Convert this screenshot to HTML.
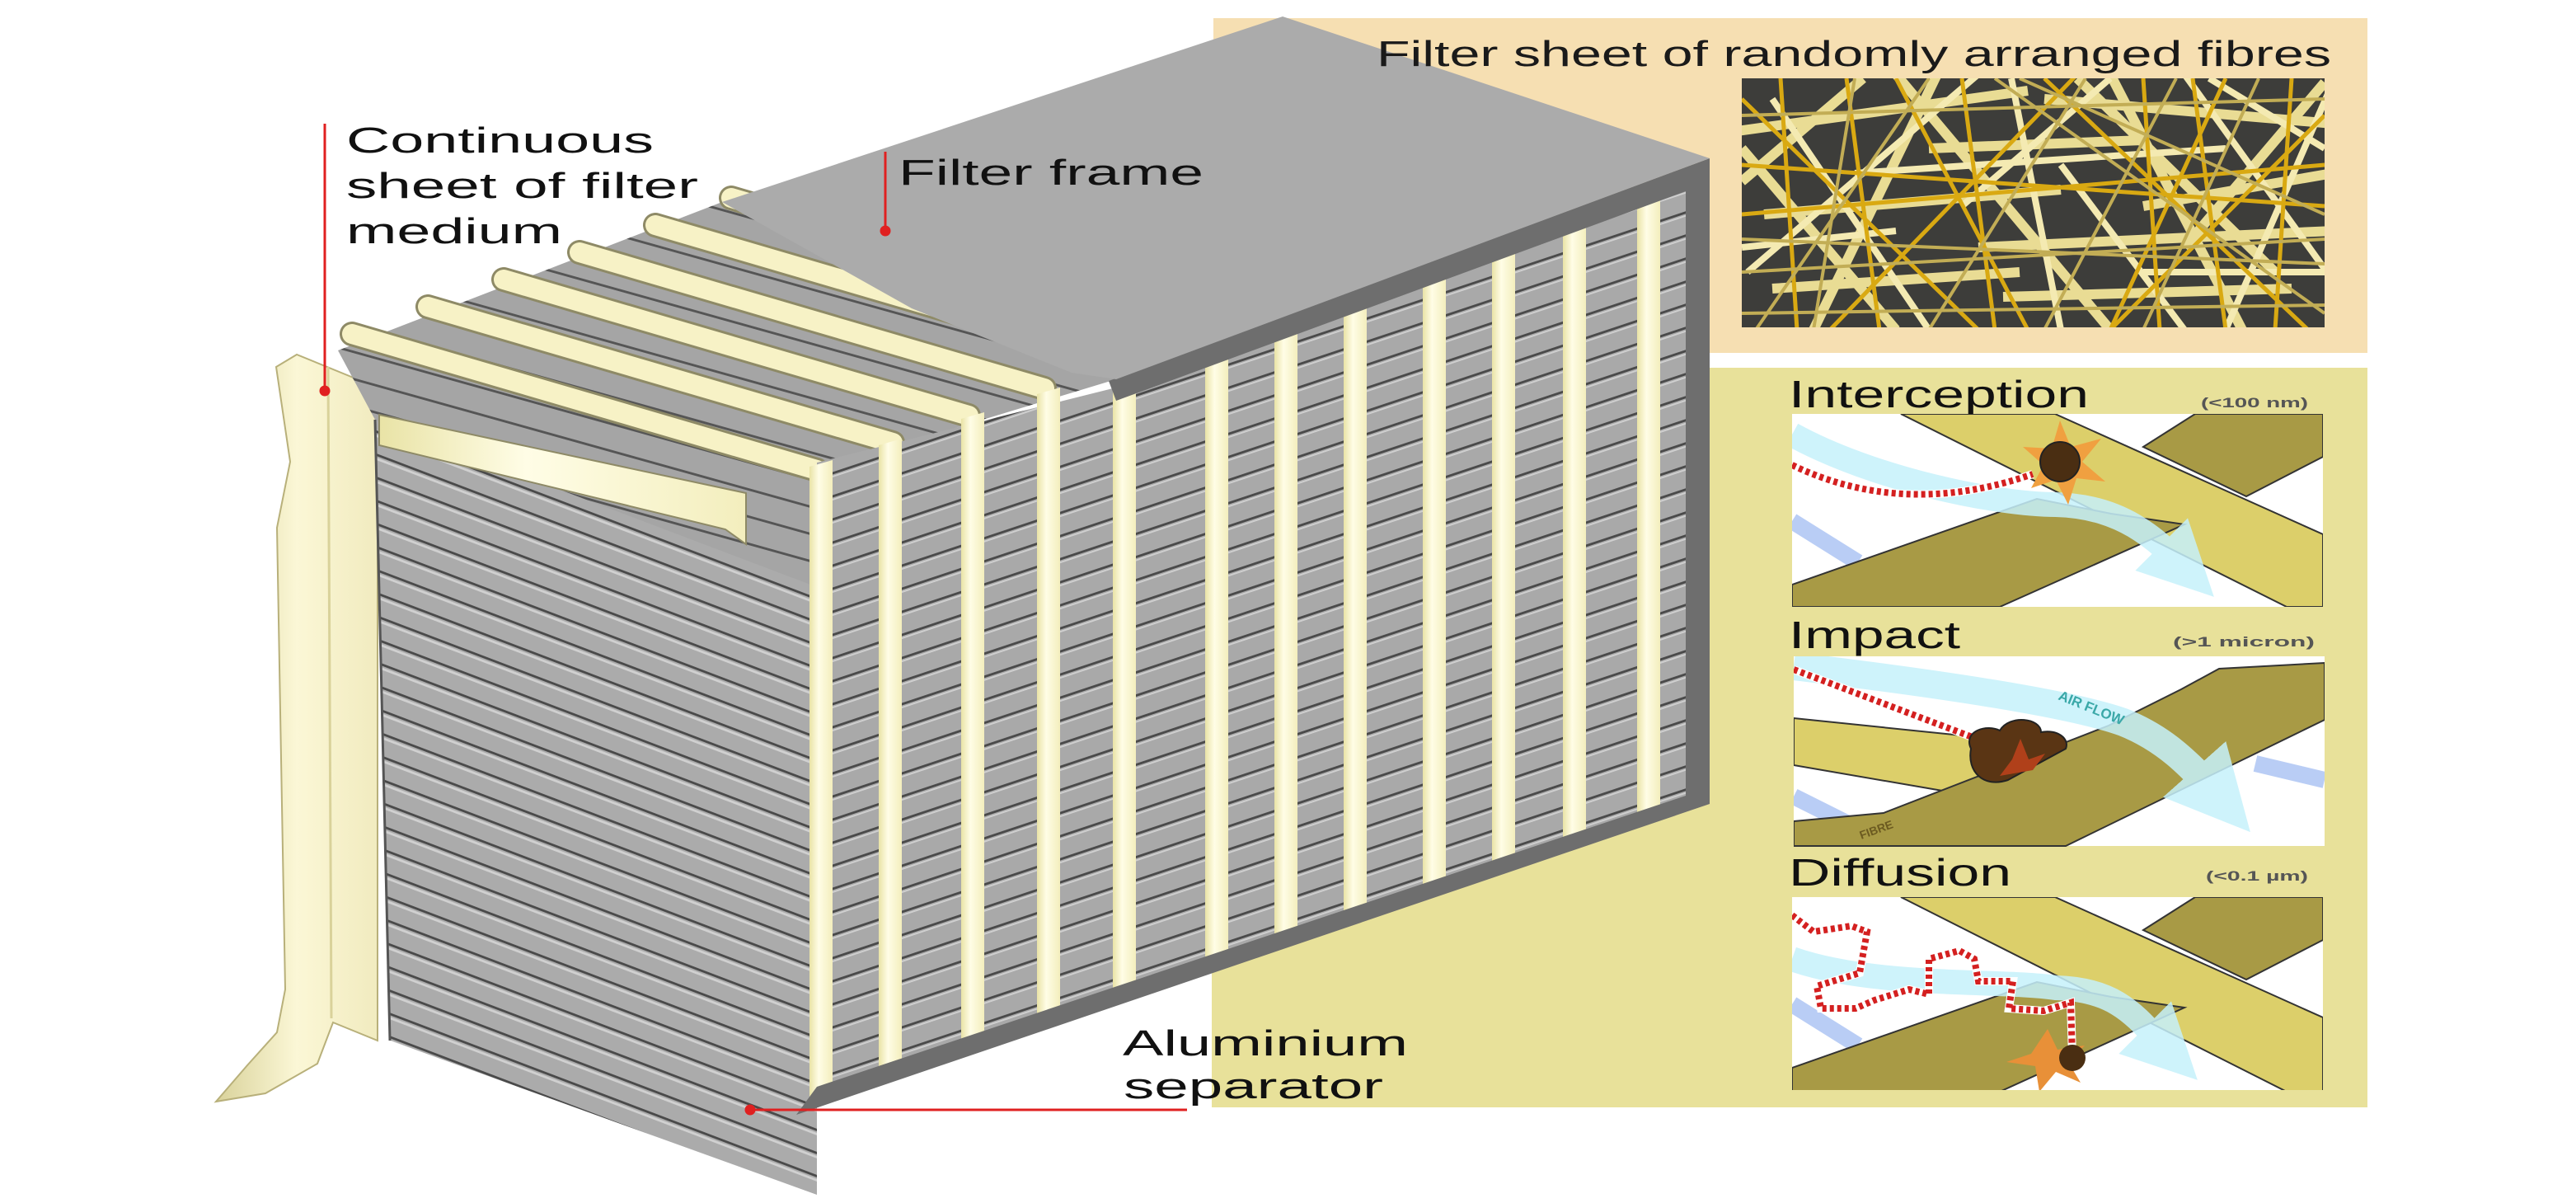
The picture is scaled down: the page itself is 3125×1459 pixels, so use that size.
<!DOCTYPE html>
<html><head><meta charset="utf-8"><style>
html,body{margin:0;padding:0;background:#fff;}
svg{display:block;}
text{font-family:"Liberation Sans",sans-serif;}
</style></head><body>
<svg width="3125" height="1459" viewBox="0 0 3125 1459" xmlns="http://www.w3.org/2000/svg">
<defs>
<pattern id="pr" width="60" height="28" patternUnits="userSpaceOnUse" patternTransform="skewY(-18.4)">
<rect width="60" height="28" fill="#a9a9a9"/><path d="M0 14H60" stroke="#4a4a4a" stroke-width="3"/><path d="M0 18H60" stroke="#cfcfcf" stroke-width="2"/>
</pattern>
<pattern id="pl" width="60" height="28" patternUnits="userSpaceOnUse" patternTransform="skewY(20.8)">
<rect width="60" height="28" fill="#ababab"/><path d="M0 14H60" stroke="#4a4a4a" stroke-width="3"/><path d="M0 19H60" stroke="#d0d0d0" stroke-width="3"/>
</pattern>
<pattern id="pf" width="60" height="33" patternUnits="userSpaceOnUse" patternTransform="skewY(15.6)">
<rect width="60" height="33" fill="#a5a5a5"/><path d="M0 10H60" stroke="#555" stroke-width="3"/>
</pattern>
<linearGradient id="cr" x1="0" x2="1" y1="0" y2="0"><stop offset="0" stop-color="#e9e3a6"/><stop offset="0.4" stop-color="#fffde6"/><stop offset="1" stop-color="#f3eebd"/></linearGradient>
<linearGradient id="cs" x1="0" x2="1"><stop offset="0" stop-color="#d9d29a"/><stop offset="0.5" stop-color="#fbf7d6"/><stop offset="1" stop-color="#f1ebbf"/></linearGradient>
<clipPath id="cf"><rect x="2113" y="95" width="707" height="302"/></clipPath>
<clipPath id="cb"><rect x="0" y="0" width="644" height="234"/></clipPath>
<marker id="ar" viewBox="0 0 10 10" refX="5" refY="5" markerWidth="3" markerHeight="3" orient="auto"><path d="M0 0L10 5L0 10z" fill="#c6f1fb"/></marker>
</defs>

<rect x="1472" y="22" width="1400" height="406" fill="#f6dfb2"/>
<rect x="1470" y="446" width="1402" height="897" fill="#e8e19a"/>

<rect x="2113" y="95" width="707" height="302" fill="#3d3d3a"/>
<g clip-path="url(#cf)" stroke-linecap="butt">
<g stroke="#e9dc94" stroke-width="12">
<line x1="2100" y1="160" x2="2460" y2="110"/><line x1="2300" y1="90" x2="2560" y2="400"/><line x1="2480" y1="120" x2="2830" y2="150"/>
<line x1="2140" y1="260" x2="2500" y2="230"/><line x1="2560" y1="90" x2="2720" y2="400"/><line x1="2400" y1="300" x2="2830" y2="280"/>
<line x1="2200" y1="400" x2="2350" y2="90"/><line x1="2600" y1="250" x2="2830" y2="210"/><line x1="2430" y1="360" x2="2780" y2="350"/>
<line x1="2113" y1="180" x2="2300" y2="400"/><line x1="2340" y1="180" x2="2600" y2="170"/><line x1="2650" y1="300" x2="2820" y2="100"/>
<line x1="2150" y1="350" x2="2450" y2="330"/><line x1="2520" y1="95" x2="2760" y2="330"/><line x1="2113" y1="220" x2="2260" y2="95"/>
</g>
<g stroke="#f4eab2" stroke-width="8">
<line x1="2120" y1="330" x2="2400" y2="90"/><line x1="2650" y1="90" x2="2830" y2="340"/><line x1="2250" y1="210" x2="2700" y2="180"/>
<line x1="2150" y1="120" x2="2340" y2="400"/><line x1="2700" y1="400" x2="2830" y2="100"/><line x1="2500" y1="200" x2="2650" y2="400"/>
<line x1="2380" y1="250" x2="2560" y2="95"/><line x1="2600" y1="330" x2="2820" y2="330"/><line x1="2113" y1="300" x2="2300" y2="280"/>
<line x1="2440" y1="95" x2="2500" y2="400"/><line x1="2680" y1="95" x2="2820" y2="180"/>
</g>
<g stroke="#d9a912" stroke-width="5">
<line x1="2160" y1="95" x2="2180" y2="400"/><line x1="2220" y1="400" x2="2520" y2="90"/><line x1="2380" y1="95" x2="2420" y2="400"/>
<line x1="2480" y1="95" x2="2800" y2="400"/><line x1="2600" y1="95" x2="2620" y2="400"/><line x1="2700" y1="95" x2="2560" y2="400"/>
<line x1="2113" y1="200" x2="2820" y2="250"/><line x1="2780" y1="95" x2="2760" y2="400"/><line x1="2300" y1="95" x2="2460" y2="400"/>
<line x1="2113" y1="120" x2="2400" y2="400"/><line x1="2560" y1="400" x2="2820" y2="140"/><line x1="2240" y1="95" x2="2280" y2="400"/>
<line x1="2113" y1="260" x2="2820" y2="200"/><line x1="2660" y1="95" x2="2700" y2="400"/>
</g>
<g stroke="#c2ad55" stroke-width="4">
<line x1="2113" y1="290" x2="2820" y2="320"/><line x1="2250" y1="95" x2="2200" y2="400"/><line x1="2530" y1="95" x2="2340" y2="400"/>
<line x1="2113" y1="380" x2="2820" y2="370"/><line x1="2450" y1="95" x2="2820" y2="260"/><line x1="2640" y1="95" x2="2480" y2="400"/>
<line x1="2113" y1="140" x2="2820" y2="120"/><line x1="2340" y1="95" x2="2130" y2="400"/><line x1="2740" y1="95" x2="2600" y2="400"/>
<line x1="2113" y1="330" x2="2820" y2="290"/><line x1="2420" y1="95" x2="2820" y2="380"/>
</g>
</g>

<path d="M335 445 L360 430 L458 470 L458 1262 L404 1240 L385 1290 L322 1326 L262 1336 L300 1292 L336 1252 L346 1200 L336 640 L352 560 Z" fill="url(#cs)" stroke="#b8b07a" stroke-width="2"/>
<path d="M398 445 L402 1235" stroke="#d9d29a" stroke-width="3"/>

<path d="M410 425 L876 245 L1354 460 L991 570 L991 720 L455 509 Z" fill="url(#pf)"/>
<g stroke-linecap="round">
<g stroke="#8e8a66" stroke-width="30">
<line x1="427" y1="405" x2="991" y2="570"/><line x1="519" y1="372" x2="1083" y2="537"/><line x1="611" y1="339" x2="1175" y2="504"/>
<line x1="703" y1="306" x2="1267" y2="471"/><line x1="795" y1="273" x2="1359" y2="438"/><line x1="887" y1="240" x2="1451" y2="405"/>
</g>
<g stroke="#f7f2c6" stroke-width="24">
<line x1="427" y1="405" x2="991" y2="570"/><line x1="519" y1="372" x2="1083" y2="537"/><line x1="611" y1="339" x2="1175" y2="504"/>
<line x1="703" y1="306" x2="1267" y2="471"/><line x1="795" y1="273" x2="1359" y2="438"/><line x1="887" y1="240" x2="1451" y2="405"/>
</g>
</g>

<path d="M455 509 L991 712 L991 1449 L473 1262 Z" fill="url(#pl)"/>
<path d="M455 509 L473 1262" stroke="#555" stroke-width="3"/>
<path d="M460 503 L905 598 L905 660 L880 642 L460 540 Z" fill="url(#cr)" stroke="#8e8a66" stroke-width="2"/>

<path d="M991 561 L1354 470 L2045 225 L2045 970 L991 1325 Z" fill="url(#pr)"/>
<g fill="url(#cr)">
<path d="M982 566 L1010 558 L1010 1320 L982 1330 Z"/>
<path d="M1066 540 L1094 532 L1094 1292 L1066 1302 Z"/>
<path d="M1166 508 L1194 500 L1194 1258 L1166 1268 Z"/>
<path d="M1258 478 L1286 470 L1286 1228 L1258 1237 Z"/>
<path d="M1350 470 L1378 460 L1378 1197 L1350 1206 Z"/>
<path d="M1462 430 L1490 420 L1490 1160 L1462 1169 Z"/>
<path d="M1546 400 L1574 390 L1574 1131 L1546 1141 Z"/>
<path d="M1630 370 L1658 360 L1658 1103 L1630 1113 Z"/>
<path d="M1726 336 L1754 326 L1754 1071 L1726 1081 Z"/>
<path d="M1810 306 L1838 296 L1838 1043 L1810 1053 Z"/>
<path d="M1896 275 L1924 265 L1924 1015 L1896 1024 Z"/>
<path d="M1986 243 L2014 233 L2014 985 L1986 994 Z"/>
</g>
<path d="M1345 462 L2074 192 L2074 975 L966 1352 L991 1318 L2045 965 L2045 232 L1354 486 Z" fill="#6e6e6e"/>
<path d="M876 245 L1556 20 L2074 192 L1354 460 L1300 452 L1106 374 Z" fill="#ababab"/>

<text x="1670" y="80" font-size="44" fill="#1a1a1a" textLength="1158" lengthAdjust="spacingAndGlyphs">Filter sheet of randomly arranged fibres</text>

<g fill="#111" font-size="44">
<text x="420" y="185" textLength="373" lengthAdjust="spacingAndGlyphs">Continuous</text>
<text x="420" y="240" textLength="427" lengthAdjust="spacingAndGlyphs">sheet of filter</text>
<text x="420" y="295" textLength="262" lengthAdjust="spacingAndGlyphs">medium</text>
<text x="1090" y="224" textLength="370" lengthAdjust="spacingAndGlyphs">Filter frame</text>
<text x="1362" y="1280" textLength="346" lengthAdjust="spacingAndGlyphs">Aluminium</text>
<text x="1363" y="1332" textLength="315" lengthAdjust="spacingAndGlyphs">separator</text>
</g>
<g stroke="#e02020" stroke-width="3" fill="#e02020">
<line x1="394" y1="150" x2="394" y2="474"/><circle cx="394" cy="474" r="5"/>
<line x1="1074" y1="184" x2="1074" y2="280"/><circle cx="1074" cy="280" r="5"/>
<line x1="910" y1="1346" x2="1440" y2="1346"/><circle cx="910" cy="1346" r="5"/>
</g>

<g fill="#111" font-size="46">
<text x="2170" y="494" textLength="364" lengthAdjust="spacingAndGlyphs">Interception</text>
<text x="2170" y="786" textLength="208" lengthAdjust="spacingAndGlyphs">Impact</text>
<text x="2170" y="1074" textLength="270" lengthAdjust="spacingAndGlyphs">Diffusion</text>
</g>
<g fill="#555" font-size="17" font-weight="bold">
<text x="2670" y="494" textLength="130" lengthAdjust="spacingAndGlyphs">(&lt;100 nm)</text>
<text x="2636" y="784" textLength="172" lengthAdjust="spacingAndGlyphs">(&gt;1 micron)</text>
<text x="2676" y="1068" textLength="124" lengthAdjust="spacingAndGlyphs">(&lt;0.1 µm)</text>
</g>

<g transform="translate(2174,502)" clip-path="url(#cb)">
<rect width="644" height="234" fill="#fff"/>
<path d="M0 130 L80 180" stroke="#b9cdf5" stroke-width="20"/>
<path d="M560 170 L644 200" stroke="#b9cdf5" stroke-width="20"/>
<path d="M426 40 L489 0 L644 0 L644 52 L551 100 Z" fill="#a89a45" stroke="#333" stroke-width="2"/>
<path d="M132 0 L319 0 L644 146 L644 234 L600 234 Z" fill="#dccf6a" stroke="#333" stroke-width="2"/>
<path d="M0 207 L297 103 L387 121 L476 134 L252 234 L0 234 Z" fill="#a89a45" stroke="#333" stroke-width="2"/>
<path d="M0 25 C100 80 250 110 320 110 C400 112 440 150 480 190" stroke="#c6f1fb" stroke-width="30" fill="none" opacity="0.85" marker-end="url(#ar)"/>
<path d="M0 62 C100 110 200 105 292 73" stroke="#fff" stroke-width="10" fill="none"/>
<path d="M0 62 C100 110 200 105 292 73" stroke="#d42020" stroke-width="8" stroke-dasharray="5 4" fill="none"/>
<polygon points="325,8 338,40 375,30 352,58 380,82 345,78 335,110 320,80 290,90 305,62 280,40 315,42" fill="#f0a040"/>
<circle cx="325" cy="58" r="24" fill="#4a2e12" stroke="#222" stroke-width="2"/>
</g>

<g transform="translate(2176,796)" clip-path="url(#cb)">
<rect width="644" height="230" fill="#fff"/>
<path d="M0 170 L90 215" stroke="#b9cdf5" stroke-width="20"/>
<path d="M560 130 L644 150" stroke="#b9cdf5" stroke-width="20"/>
<path d="M0 75 L340 110 L250 175 L0 132 Z" fill="#dccf6a" stroke="#333" stroke-width="2"/>
<path d="M0 230 L0 200 L109 190 L382 84 L470 40 L516 15 L644 8 L644 77 L330 230 Z" fill="#a89a45" stroke="#333" stroke-width="2"/>
<path d="M0 12 C150 30 330 55 400 80 C450 100 480 130 520 175" stroke="#c6f1fb" stroke-width="34" fill="none" opacity="0.85" marker-end="url(#ar)"/>
<text x="320" y="52" font-size="17" font-weight="bold" fill="#3aa8a8" transform="rotate(22 320 52)">AIR FLOW</text>
<text x="82" y="222" font-size="14" font-weight="bold" fill="#6b5a20" transform="rotate(-20 82 222)">FIBRE</text>
<path d="M0 16 L222 100" stroke="#fff" stroke-width="10"/>
<path d="M0 16 L222 100" stroke="#d42020" stroke-width="8" stroke-dasharray="5 4"/>
<path d="M215 112 C205 90 235 82 250 90 C262 70 300 75 300 92 C320 88 335 100 330 112 L260 150 C230 160 210 140 215 112 Z" fill="#5a3514" stroke="#222" stroke-width="2"/>
<polygon points="275,100 285,125 305,118 290,138 250,145 265,125" fill="#b0401a"/>
</g>

<g transform="translate(2174,1088)" clip-path="url(#cb)">
<rect width="644" height="236" fill="#fff"/>
<path d="M0 130 L80 180" stroke="#b9cdf5" stroke-width="20"/>
<path d="M560 170 L644 200" stroke="#b9cdf5" stroke-width="20"/>
<path d="M426 40 L489 0 L644 0 L644 52 L551 100 Z" fill="#a89a45" stroke="#333" stroke-width="2"/>
<path d="M132 0 L319 0 L644 146 L644 236 L600 236 Z" fill="#dccf6a" stroke="#333" stroke-width="2"/>
<path d="M0 207 L297 103 L387 121 L476 134 L252 236 L0 236 Z" fill="#a89a45" stroke="#333" stroke-width="2"/>
<path d="M0 75 C100 110 250 100 320 110 C400 112 420 150 460 190" stroke="#c6f1fb" stroke-width="30" fill="none" opacity="0.85" marker-end="url(#ar)"/>
<polyline points="0,22 26,42 72,35 91,42 82,92 30,108 35,135 77,135 100,125 142,112 166,118 166,75 203,65 221,75 226,102 268,102 263,135 305,138 338,128 340,192" fill="none" stroke="#fff" stroke-width="10"/>
<polyline points="0,22 26,42 72,35 91,42 82,92 30,108 35,135 77,135 100,125 142,112 166,118 166,75 203,65 221,75 226,102 268,102 263,135 305,138 338,128 340,192" fill="none" stroke="#d42020" stroke-width="8" stroke-dasharray="5 4"/>
<polygon points="310,160 322,185 355,180 335,200 350,225 320,212 300,236 295,205 260,200 290,190" fill="#e89038"/>
<circle cx="340" cy="195" r="16" fill="#4a2e12"/>
</g>
</svg>
</body></html>
